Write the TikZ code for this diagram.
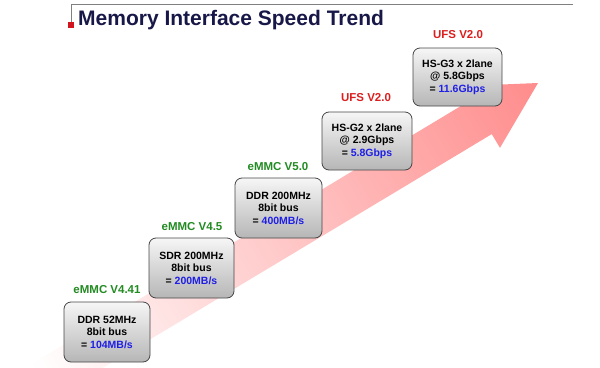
\documentclass[tikz,border=0pt]{standalone}
\usepackage{fontspec}
\setmainfont{Liberation Sans}
\definecolor{titlenavy}{RGB}{24,24,72}
\definecolor{lblgreen}{RGB}{34,139,34}
\definecolor{lblred}{RGB}{220,30,30}
\definecolor{numblue}{RGB}{30,30,230}
\definecolor{arrowpink}{RGB}{255,140,140}
\definecolor{boxtop}{RGB}{246,246,246}
\definecolor{boxbot}{RGB}{182,182,182}
\definecolor{boxline}{RGB}{70,70,70}
\definecolor{rulegray}{RGB}{128,128,128}
\definecolor{squarered}{RGB}{210,20,30}
\begin{document}
\begin{tikzpicture}[x=1pt,y=-1pt,
  specbox/.style={draw=boxline, line width=0.8pt, rounded corners=7pt,
    top color=boxtop, bottom color=boxbot, inner sep=0pt, align=center,
    font=\fontsize{10.5}{12.5}\selectfont\bfseries, text=black},
  verlbl/.style={inner sep=0pt, font=\fontsize{11.5}{14}\selectfont\bfseries},
  emmc/.style={verlbl, text=lblgreen},
  ufs/.style={verlbl, text=lblred}]
\useasboundingbox (0,0) rectangle (600,367);
% header
\draw[rulegray, line width=1pt] (71,22) -- (71,4) -- (573,4);
\fill[squarered] (68,22) rectangle (74,28);
\node[anchor=base west, inner sep=0pt, text=titlenavy,
  font=\fontsize{21}{25}\selectfont\bfseries] (title) at (78,25.5) {Memory Interface Speed Trend};
% arrow
\begin{scope}
\clip (0,0) rectangle (600,367);
\begin{scope}[transform canvas={shift={(538,83)},rotate=31}]
\shade[left color=white, right color=arrowpink]
  (0,0) -- (-66,36) -- (-66,20) -- (-580,20) -- (-580,-20) -- (-66,-20) -- (-66,-36) -- cycle;
\end{scope}
\end{scope}
% boxes
\node[specbox, minimum width=86, minimum height=60] (b1) at (107,332)
  {DDR 52MHz\\8bit bus\\= \textcolor{numblue}{104MB/s}};
\node[specbox, minimum width=85, minimum height=60] (b2) at (191.5,268)
  {SDR 200MHz\\8bit bus\\= \textcolor{numblue}{200MB/s}};
\node[specbox, minimum width=87, minimum height=60] (b3) at (278.5,208)
  {DDR 200MHz\\8bit bus\\= \textcolor{numblue}{400MB/s}};
\node[specbox, minimum width=90, minimum height=58] (b4) at (367,141)
  {HS-G2 x 2lane\\@ 2.9Gbps\\= \textcolor{numblue}{5.8Gbps}};
\node[specbox, minimum width=89, minimum height=58] (b5) at (457.5,77)
  {HS-G3 x 2lane\\@ 5.8Gbps\\= \textcolor{numblue}{11.6Gbps}};
% labels
\node[emmc] (l1) at (107,290) {eMMC V4.41};
\node[emmc] (l2) at (192,227) {eMMC V4.5};
\node[emmc] (l3) at (278,167) {eMMC V5.0};
\node[ufs] (l4) at (366,98) {UFS V2.0};
\node[ufs] (l5) at (458,35) {UFS V2.0};
\end{tikzpicture}
\end{document}
